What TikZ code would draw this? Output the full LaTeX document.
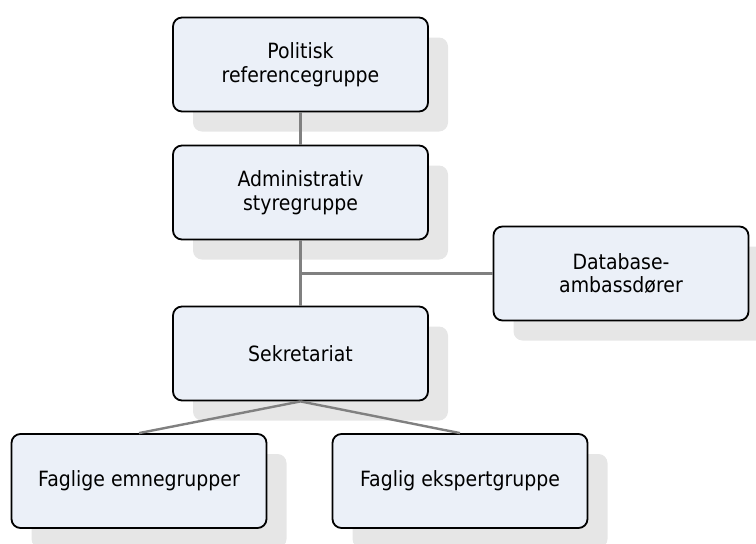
\documentclass[tikz,border=0pt]{standalone}
\usepackage{fontspec}
\newfontfamily\orgfont{DejaVu Sans}[FakeStretch=0.9]
\usetikzlibrary{shadows}
\definecolor{boxfill}{HTML}{EBF0F8}
\definecolor{shadowgray}{HTML}{E6E6E6}
\definecolor{linkgray}{HTML}{808080}

\begin{document}
\begin{tikzpicture}[
  x=1pt, y=-1pt,
  block/.style={rectangle, rounded corners=9pt, draw=black, line width=1.8pt, fill=boxfill,
    minimum width=255pt, minimum height=94pt, align=center,
    font=\orgfont\fontsize{21}{24}\selectfont,
    drop shadow={shadow xshift=20pt, shadow yshift=-20pt, fill=shadowgray, opacity=1}},
  link/.style={draw=linkgray, line width=2.4pt}
]
\useasboundingbox (0,0) rectangle (756,544);

% Top of the chain
\node[block] (pol) at (300.5,64.5) {Politisk\\referencegruppe};
\node[block] (adm) at (300.5,192.5) {Administrativ\\styregruppe};

% Side box
\node[block] (db) at (621,273.5) {Database-\\ambassdører};

% Secretariat
\node[block] (sek) at (300.5,353.5) {Sekretariat};

% Groups
\node[block] (fag1) at (139,481) {Faglige emnegrupper};
\node[block] (fag2) at (460,481) {Faglig ekspertgruppe};

% Links
\coordinate (junction) at (adm.south |- db.west);
\draw[link] (pol) -- (adm);
\draw[link] (adm) -- (sek);
\draw[link] (junction) -- (db);
\draw[link] (sek.south) -- (fag1.north);
\draw[link] (sek.south) -- (fag2.north);

\end{tikzpicture}
\end{document}
